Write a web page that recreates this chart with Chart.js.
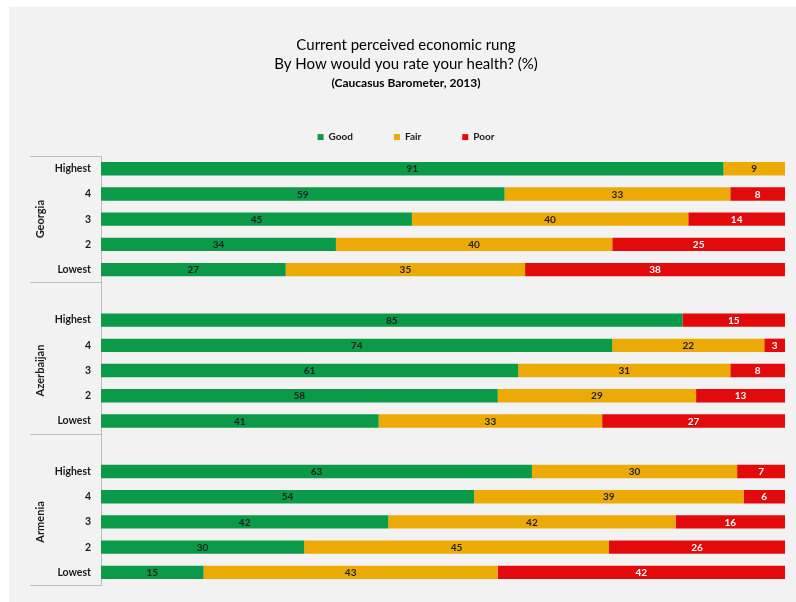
<!DOCTYPE html>
<html><head><meta charset="utf-8">
<script src="https://cdn.jsdelivr.net/npm/chart.js@4/dist/chart.umd.min.js"></script>
<style>html,body{margin:0;padding:0;background:#fff;}#wrap{width:796px;height:602px;}</style>
</head><body><div id="wrap"><canvas id="c" width="796" height="602"></canvas></div>
<script>
// ---- data ----
const countries = ["Georgia", "Azerbaijan", "Armenia"];
const rungs = ["Highest", "4", "3", "2", "Lowest"];
const seriesNames = ["Good", "Fair", "Poor"];
const goodGeorgia = [91, 59, 45, 34, 27];
const fairGeorgia = [9, 33, 40, 40, 35];
const poorGeorgia = [0, 8, 14, 25, 38];
const goodAzerbaijan = [85, 74, 61, 58, 41];
const fairAzerbaijan = [0, 22, 31, 29, 33];
const poorAzerbaijan = [15, 3, 8, 13, 27];
const goodArmenia = [63, 54, 42, 30, 15];
const fairArmenia = [30, 39, 42, 45, 43];
const poorArmenia = [7, 6, 16, 26, 42];
const titleLines = ["Current perceived economic rung", "By How would you rate your health? (%)"];
const subtitleText = "(Caucasus Barometer, 2013)";

// ---- build table ----
const perCountry = [
  [goodGeorgia, fairGeorgia, poorGeorgia],
  [goodAzerbaijan, fairAzerbaijan, poorAzerbaijan],
  [goodArmenia, fairArmenia, poorArmenia]
];
const labels = [];
const raw = [[], [], []];
const groupRows = []; // [firstIndex, lastIndex]
countries.forEach((c, ci) => {
  const first = labels.length;
  rungs.forEach((r, ri) => {
    labels.push(r);
    for (let s = 0; s < 3; s++) raw[s].push(perCountry[ci][s][ri]);
  });
  groupRows.push([first, labels.length - 1]);
  if (ci < countries.length - 1) {
    labels.push("");
    for (let s = 0; s < 3; s++) raw[s].push(null);
  }
});
const pct = raw.map((arr, s) => arr.map((v, i) => {
  if (v === null) return null;
  const tot = raw[0][i] + raw[1][i] + raw[2][i];
  return v / tot * 100;
}));

const colors = ["#0a9a48", "#ecaa06", "#e20a0a"];
const textColors = ["#1f1f1f", "#1f1f1f", "#ffffff"];
const FONT = "Lato";

const bgPlugin = {
  id: "bg",
  beforeDraw(chart) {
    const ctx = chart.ctx;
    ctx.save();
    ctx.fillStyle = "#ffffff";
    ctx.fillRect(0, 0, chart.width, chart.height);
    ctx.fillStyle = "#f2f2f2";
    ctx.fillRect(9, 7, chart.width - 9, chart.height - 7);
    ctx.restore();
  }
};

const decoPlugin = {
  id: "deco",
  afterDraw(chart) {
    const ctx = chart.ctx;
    const y = chart.scales.y;
    const area = chart.chartArea;
    const half = (y.getPixelForValue(1) - y.getPixelForValue(0)) / 2;
    ctx.save();
    ctx.strokeStyle = "#bdbdbd";
    ctx.lineWidth = 1;
    ctx.beginPath();
    ctx.moveTo(area.left - 71, Math.round(area.top) + 0.5);
    ctx.lineTo(area.left, Math.round(area.top) + 0.5);
    ctx.stroke();
    groupRows.forEach(([a, b], gi) => {
      const yb = Math.round(y.getPixelForValue(b) + half) + 0.5;
      ctx.beginPath();
      ctx.moveTo(area.left - 71, yb);
      ctx.lineTo(area.left, yb);
      ctx.stroke();
      const yc = (y.getPixelForValue(a) + y.getPixelForValue(b)) / 2;
      ctx.save();
      ctx.translate(area.left - 61, yc);
      ctx.rotate(-Math.PI / 2);
      ctx.fillStyle = "#1a1a1a";
      ctx.font = "bold 11px " + FONT;
      ctx.textAlign = "center";
      ctx.textBaseline = "middle";
      ctx.fillText(countries[gi], 0, 0);
      ctx.restore();
    });
    ctx.restore();
  },
  afterDatasetsDraw(chart) {
    const ctx = chart.ctx;
    ctx.save();
    ctx.font = "bold 10px " + FONT;
    ctx.textAlign = "center";
    ctx.textBaseline = "middle";
    chart.data.datasets.forEach((ds, di) => {
      const meta = chart.getDatasetMeta(di);
      meta.data.forEach((el, i) => {
        const v = raw[di][i];
        if (v === null || v === 0) return;
        ctx.fillStyle = textColors[di];
        ctx.fillText(String(v), (el.x + el.base) / 2, el.y + 0.5);
      });
    });
    ctx.restore();
  }
};

new Chart(document.getElementById("c"), {
  type: "bar",
  data: {
    labels: labels,
    datasets: seriesNames.map((n, s) => ({
      label: n,
      data: pct[s],
      backgroundColor: colors[s],
      borderWidth: 0,
      barPercentage: 0.53,
      categoryPercentage: 1
    }))
  },
  options: {
    indexAxis: "y",
    responsive: false,
    animation: false,
    devicePixelRatio: 1,
    layout: { padding: { left: 27, right: 11, top: 7, bottom: 17 } },
    plugins: {
      tooltip: { enabled: false },
      title: {
        display: true,
        text: titleLines,
        color: "#000",
        font: { family: FONT, size: 15, weight: "normal", lineHeight: 1.27 },
        padding: { top: 28.5, bottom: 3 }
      },
      subtitle: {
        display: true,
        text: subtitleText,
        color: "#000",
        font: { family: FONT, size: 12, weight: "bold", lineHeight: 1.1 },
        padding: { top: 0, bottom: 1.3 }
      },
      legend: {
        position: "top",
        labels: {
          color: "#1a1a1a",
          font: { family: FONT, size: 10, weight: "bold" },
          boxWidth: 6, boxHeight: 6,
          padding: 41
        }
      }
    },
    scales: {
      x: {
        stacked: true, min: 0, max: 100, position: "top",
        ticks: { display: false }, grid: { display: false }, border: { display: false },
        afterFit(s) { s.height = 4; }
      },
      y: {
        stacked: true,
        grid: { display: false },
        border: { display: true, color: "#bdbdbd", width: 1 },
        ticks: { color: "#1a1a1a", font: { family: FONT, size: 10.5, weight: "bold" }, padding: 2, autoSkip: false },
        afterFit(s) { s.width = 74; }
      }
    }
  },
  plugins: [bgPlugin, decoPlugin]
});
</script></body></html>
